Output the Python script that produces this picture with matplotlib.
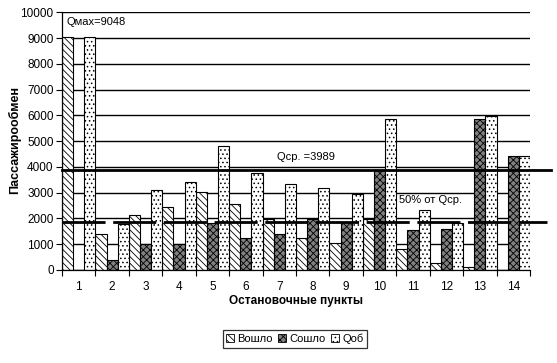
import matplotlib
matplotlib.use("Agg")
import matplotlib.pyplot as plt
from matplotlib.lines import Line2D
from matplotlib.patches import Patch
import numpy as np

plt.rcParams['font.family'] = ['Liberation Sans', 'DejaVu Sans']
plt.rcParams['hatch.linewidth'] = 0.6

stops = ['1', '2', '3', '4', '5', '6', '7', '8', '9', '10', '11', '12', '13', '14']
voshlo = [9048, 1390, 2130, 2430, 3010, 2560, 1960, 1230, 1040, 1960, 815, 260, 130, 0]
soshlo = [0, 390, 1000, 990, 1810, 1230, 1390, 1960, 1880, 3880, 1550, 1590, 5860, 4420]
qob = [9048, 1780, 3110, 3420, 4830, 3770, 3340, 3180, 2940, 5850, 2340, 1830, 5990, 4420]
series_names = ['Вошло', 'Сошло', 'Qоб']
q_avg_line = 3890
q_half_line = 1860
y_ticks = [0, 1000, 2000, 3000, 4000, 5000, 6000, 7000, 8000, 9000, 10000]

W, H = 557, 363
fig = plt.figure(figsize=(W / 100, H / 100), dpi=100)
ax = fig.add_axes([62 / W, 1 - 270 / H, (530 - 62) / W, (270 - 12.3) / H])

x = np.arange(len(stops))
bw = 1 / 3
styles = [
    dict(facecolor='white', hatch='\\\\\\\\\\'),
    dict(facecolor='#808080', hatch='xxxxx'),
    dict(facecolor='white', hatch='....'),
]
for i, (vals, st) in enumerate(zip([voshlo, soshlo, qob], styles)):
    ax.bar(x - 0.5 + bw * (i + 0.5), vals, width=bw, edgecolor='black',
           linewidth=0.8, zorder=2, **st)

ax.set_xlim(-0.5, len(stops) - 0.5)
ax.set_ylim(0, 10000)
ax.set_yticks(y_ticks)
ax.set_yticklabels([str(v) for v in y_ticks], fontsize=8.5)
ax.set_xticks(x)
ax.set_xticklabels(stops, fontsize=8.5)
ax.set_xticks(np.arange(len(stops) + 1) - 0.5, minor=True)
ax.tick_params(axis='x', which='major', length=0, pad=8)
ax.tick_params(axis='x', which='minor', length=4, width=0.8, direction='out')
ax.tick_params(axis='y', length=4, width=0.8, direction='out', pad=2)
ax.grid(axis='y', color='black', linewidth=1.0, zorder=0)
ax.set_axisbelow(True)
for s in ['top', 'right']:
    ax.spines[s].set_visible(False)
for s in ['left', 'bottom']:
    ax.spines[s].set_linewidth(0.9)

trans = ax.get_yaxis_transform()
ax.add_line(Line2D([0, 1.045], [q_avg_line, q_avg_line], transform=trans,
                   color='black', linewidth=2.0, clip_on=False, zorder=4))
lw = 2.0
ax.add_line(Line2D([0, 1.037], [q_half_line, q_half_line], transform=trans,
                   color='black', linewidth=lw, clip_on=False, zorder=4,
                   linestyle=(0, (31 / lw, 5.5 / lw))))

ax.text(0.01, 0.962, 'Qмах=9048', transform=ax.transAxes, fontsize=8, va='center', ha='left', zorder=5)
ax.text(5.93, 4400, 'Qср. =3989', fontsize=8, va='center', ha='left', zorder=5)
ax.text(9.58, 2720, '50% от Qср.', fontsize=8, va='center', ha='left', zorder=5)

fig.text(15 / W, 1 - 140 / H, 'Пассажирообмен', rotation=90, fontsize=9,
         fontweight='bold', ha='center', va='center')
fig.text(296 / W, 1 - 301 / H, 'Остановочные пункты', fontsize=8.5,
         fontweight='bold', ha='center', va='center')

handles = [Patch(edgecolor='black', linewidth=0.6, **st) for st in styles]
leg = fig.legend(handles, series_names, loc='center', bbox_to_anchor=(295 / W, 1 - 339 / H),
                 ncol=3, fontsize=8, frameon=True, fancybox=False, edgecolor='black',
                 handlelength=0.7, handleheight=0.7, handletextpad=0.3, columnspacing=0.5,
                 borderpad=0.3, borderaxespad=0)
leg.get_frame().set_linewidth(0.9)

fig.savefig('out.png', dpi=100)
